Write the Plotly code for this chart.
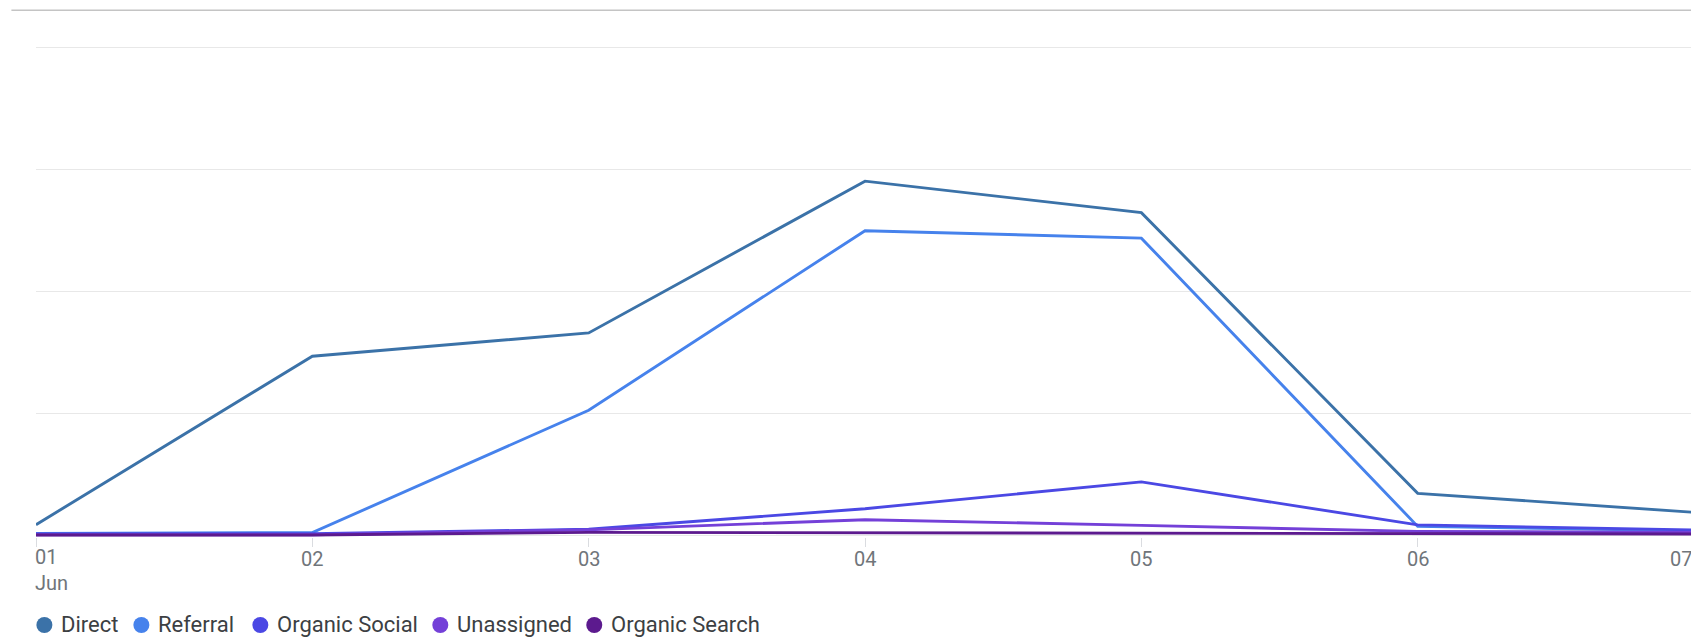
import plotly.graph_objects as go

# ---- data (gridline step = 10 units) ----
days = [1, 2, 3, 4, 5, 6, 7]
day_labels = ["01", "02", "03", "04", "05", "06", "07"]
month_label = "Jun"

series_names = ["Direct", "Referral", "Organic Social", "Unassigned", "Organic Search"]
direct = [0.86, 14.67, 16.58, 29.02, 26.44, 3.43, 1.87]
referral = [0.15, 0.21, 10.24, 24.96, 24.35, 0.72, 0.35]
organic_social = [0.11, 0.12, 0.48, 2.17, 4.37, 0.84, 0.43]
unassigned = [0.04, 0.04, 0.43, 1.27, 0.80, 0.31, 0.23]
organic_search = [0.02, 0.02, 0.23, 0.20, 0.15, 0.10, 0.10]

series_colors = ["#3b72a8", "#4682ec", "#4b48e4", "#7440d8", "#5c1a8e"]

# ---- layout constants ----
W, H = 1691, 637
x_min, x_max = 1.0, 6.989
y_min, y_max = -0.15, 40.1
m_l, m_r, m_t, m_b = 35.6, 0, 46.0, 100.4
tick_font = dict(family="Roboto, Arial, sans-serif", size=20, color="#70757a")
legend_font = dict(family="Roboto, Arial, sans-serif", size=22, color="#3c4043")
legend_marker_px = [44, 141, 260, 440, 594]   # legend circle centres (px from left)
legend_text_gap = 16                            # circle centre -> text start (px)
legend_center_px = 624.5                        # legend row centre (px from top)
legend_radius = 8

plot_w = W - m_l - m_r
plot_h = H - m_t - m_b
plot_bottom_px = m_t + plot_h

fig = go.Figure()
all_series = [direct, referral, organic_social, unassigned, organic_search]
for name, vals, col in zip(series_names, all_series, series_colors):
    fig.add_trace(go.Scatter(x=days, y=vals, mode="lines", name=name,
                             line=dict(color=col, width=2.9),
                             showlegend=False, hoverinfo="skip"))

annotations = []
shapes = []

# x tick labels as text (first left-aligned with the month, last right-aligned)
for i, (d, lab) in enumerate(zip(days, day_labels)):
    if i == 0:
        annotations.append(dict(x=d, xref="x", y=0, yref="paper",
                                text=lab + "<br>" + month_label, align="left",
                                xanchor="left", yanchor="top", yshift=-7, xshift=-2,
                                showarrow=False, font=tick_font, borderpad=0))
    elif i == len(days) - 1:
        annotations.append(dict(x=(d - x_min) / (x_max - x_min), xref="paper", y=0,
                                yref="paper", text=lab, xanchor="right", yanchor="top",
                                yshift=-8, showarrow=False, font=tick_font))
    else:
        annotations.append(dict(x=d, xref="x", y=0, yref="paper", text=lab,
                                xanchor="center", yanchor="top", yshift=-8,
                                showarrow=False, font=tick_font))

# legend: circle + label for each series
leg_y = (plot_bottom_px - legend_center_px) / plot_h
for name, col, px in zip(series_names, series_colors, legend_marker_px):
    xp = (px - m_l) / plot_w
    shapes.append(dict(type="circle", xref="paper", yref="paper",
                       xsizemode="pixel", ysizemode="pixel",
                       xanchor=xp, yanchor=leg_y,
                       x0=-legend_radius, x1=legend_radius,
                       y0=-legend_radius, y1=legend_radius,
                       fillcolor=col, line=dict(width=0)))
    annotations.append(dict(x=(px + legend_text_gap - m_l) / plot_w, xref="paper",
                            y=leg_y, yref="paper", text=name, xanchor="left",
                            yanchor="middle", showarrow=False, font=legend_font,
                            borderpad=0))

# thin separator line at the very top
top_line_y = 1 + (m_t - 10.3) / plot_h
top_line_x0 = (11 - m_l) / plot_w
shapes.append(dict(type="line", xref="paper", yref="paper", x0=top_line_x0, x1=1.01,
                   y0=top_line_y, y1=top_line_y, line=dict(color="#c4c4c4", width=1.5)))

fig.update_layout(
    width=W, height=H,
    margin=dict(l=m_l, r=m_r, t=m_t, b=m_b, autoexpand=False),
    paper_bgcolor="white", plot_bgcolor="white",
    font=dict(family="Roboto, Arial, sans-serif"),
    xaxis=dict(range=[x_min, x_max], tickvals=days, showticklabels=False,
               ticks="outside", ticklen=9, tickwidth=1, tickcolor="#dadce0",
               showgrid=False, zeroline=False, showline=False, fixedrange=True),
    yaxis=dict(range=[y_min, y_max], dtick=10, tick0=0, showticklabels=False,
               showgrid=True, gridcolor="#e8e8e8", gridwidth=1.3,
               zeroline=False, showline=False, fixedrange=True),
    showlegend=False,
    annotations=annotations,
    shapes=shapes,
)

fig.write_html("out.html")
